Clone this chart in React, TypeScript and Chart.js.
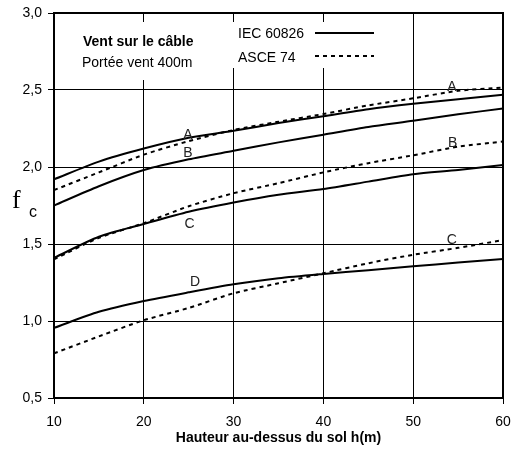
import { useEffect, useRef } from "react";
import { Chart, registerables } from "chart.js";

Chart.register(...registerables);

// ---- data ----
const heights = [10, 15, 20, 25, 30, 35, 40, 45, 50, 55, 60];
const iecA = [1.92, 2.035, 2.12, 2.19, 2.235, 2.285, 2.33, 2.375, 2.41, 2.44, 2.47];
const iecB = [1.75, 1.875, 1.98, 2.05, 2.105, 2.16, 2.21, 2.26, 2.3, 2.342, 2.38];
const iecC = [1.41, 1.547, 1.63, 1.71, 1.77, 1.82, 1.857, 1.905, 1.953, 1.98, 2.013];
const iecD = [0.955, 1.06, 1.13, 1.186, 1.238, 1.277, 1.305, 1.33, 1.355, 1.38, 1.403];
const asceA = [1.85, 1.965, 2.08, 2.168, 2.24, 2.294, 2.344, 2.4, 2.446, 2.495, 2.515];
const asceB = [1.4, 1.54, 1.635, 1.745, 1.83, 1.895, 1.965, 2.025, 2.076, 2.132, 2.165];
const asceC = [0.79, 0.9, 1.005, 1.085, 1.18, 1.245, 1.31, 1.375, 1.43, 1.475, 1.525];

const xTicks = [10, 20, 30, 40, 50, 60];
const yTicks = [0.5, 1.0, 1.5, 2.0, 2.5, 3.0];

const legendNames = ["IEC 60826", "ASCE 74"];
const boxTitle = "Vent sur le câble";
const boxSubtitle = "Portée vent 400m";
const xTitle = "Hauteur au-dessus du sol h(m)";

const curveLabelText = ["A", "B", "C", "D", "A", "B", "C"];
const curveLabelX = [24.9, 24.9, 25.1, 25.7, 54.3, 54.4, 54.3];
const curveLabelY = [2.21, 2.09, 1.63, 1.253, 2.52, 2.156, 1.526];

const toPts = (ys: number[]) => ys.map((y, i) => ({ x: heights[i], y }));

const overlayPlugin = {
  id: "overlay",
  afterDatasetsDraw(chart: any) {
    const { ctx, chartArea, scales } = chart;
    const xs = scales.x;
    const ys = scales.y;
    ctx.save();
    // white boxes
    ctx.fillStyle = "#fff";
    ctx.fillRect(62, 22, 170, 58);
    ctx.fillRect(232, 22, 150, 46);

    ctx.fillStyle = "#000";
    ctx.textBaseline = "middle";
    ctx.textAlign = "left";
    ctx.font = 'bold 14px "Liberation Sans", Arial, sans-serif';
    ctx.fillText(boxTitle, 83, 42);
    ctx.font = '14px "Liberation Sans", Arial, sans-serif';
    ctx.fillText(boxSubtitle, 82, 63);

    // legend
    ctx.fillText(legendNames[0], 238, 34);
    ctx.fillText(legendNames[1], 238, 58);
    ctx.strokeStyle = "#000";
    ctx.lineWidth = 2;
    ctx.beginPath();
    ctx.moveTo(315, 33);
    ctx.lineTo(374, 33);
    ctx.stroke();
    ctx.setLineDash([4, 4]);
    ctx.beginPath();
    ctx.moveTo(315, 56);
    ctx.lineTo(374, 56);
    ctx.stroke();
    ctx.setLineDash([]);

    // curve labels
    ctx.textAlign = "center";
    ctx.font = '14px "Liberation Sans", Arial, sans-serif';
    ctx.fillStyle = "#222";
    curveLabelText.forEach((t, i) => {
      ctx.fillText(t, xs.getPixelForValue(curveLabelX[i]), ys.getPixelForValue(curveLabelY[i]));
    });

    // frame
    ctx.strokeStyle = "#000";
    ctx.lineWidth = 2;
    ctx.strokeRect(chartArea.left, chartArea.top, chartArea.right - chartArea.left, chartArea.bottom - chartArea.top);

    // axis titles
    ctx.fillStyle = "#000";
    ctx.textAlign = "center";
    ctx.font = 'bold 14px "Liberation Sans", Arial, sans-serif';
    ctx.fillText(xTitle, (chartArea.left + chartArea.right) / 2, 438);

    ctx.textAlign = "left";
    ctx.textBaseline = "alphabetic";
    ctx.font = '26px "Liberation Serif", "Times New Roman", serif';
    ctx.fillText("f", 12, 208);
    ctx.font = '16px "Liberation Sans", Arial, sans-serif';
    ctx.fillText("c", 29, 217);
    ctx.restore();
  },
};

export default function App() {
  const ref = useRef<HTMLCanvasElement | null>(null);
  useEffect(() => {
    if (!ref.current) return;
    const solid = (data: number[]) => ({
      data: toPts(data),
      borderColor: "#000",
      borderWidth: 2,
      pointRadius: 0,
      tension: 0.25,
      fill: false,
    });
    const dashed = (data: number[]) => ({
      ...solid(data),
      borderDash: [4, 4],
    });
    const chart = new Chart(ref.current, {
      type: "line",
      data: {
        datasets: [
          { label: legendNames[0] + " A", ...solid(iecA) },
          { label: legendNames[0] + " B", ...solid(iecB) },
          { label: legendNames[0] + " C", ...solid(iecC) },
          { label: legendNames[0] + " D", ...solid(iecD) },
          { label: legendNames[1] + " A", ...dashed(asceA) },
          { label: legendNames[1] + " B", ...dashed(asceB) },
          { label: legendNames[1] + " C", ...dashed(asceC) },
        ] as any,
      },
      options: {
        animation: false,
        responsive: false,
        layout: { padding: { top: 13, right: 9, left: 0, bottom: 0 } },
        plugins: { legend: { display: false }, tooltip: { enabled: false } },
        scales: {
          x: {
            type: "linear",
            min: 10,
            max: 60,
            afterFit: (s: any) => {
              s.height = 51;
              s.paddingLeft = 0;
              s.paddingRight = 0;
            },
            afterBuildTicks: (s: any) => {
              s.ticks = xTicks.map((v) => ({ value: v }));
            },
            grid: { color: "#000", lineWidth: 1, tickLength: 6, tickColor: "#000" },
            border: { display: true, color: "#000", width: 2 },
            ticks: {
              color: "#000",
              padding: 10,
              maxRotation: 0,
              font: { family: '"Liberation Sans", Arial, sans-serif', size: 14 },
            },
          },
          y: {
            type: "linear",
            min: 0.5,
            max: 3.0,
            afterFit: (s: any) => {
              s.width = 54;
              s.paddingTop = 0;
              s.paddingBottom = 0;
            },
            afterBuildTicks: (s: any) => {
              s.ticks = yTicks.map((v) => ({ value: v }));
            },
            grid: { color: "#000", lineWidth: 1, tickLength: 6, tickColor: "#000" },
            border: { display: true, color: "#000", width: 2 },
            ticks: {
              color: "#000",
              padding: 6,
              font: { family: '"Liberation Sans", Arial, sans-serif', size: 14 },
              callback: (v: any) => Number(v).toFixed(1).replace(".", ","),
            },
          },
        },
      },
      plugins: [overlayPlugin],
    });
    return () => chart.destroy();
  }, []);
  return (
    <div style={{ position: "fixed", left: 0, top: 0, width: 512, height: 449, background: "#fff" }}>
      <canvas ref={ref} width={512} height={449} style={{ width: 512, height: 449, display: "block" }} />
    </div>
  );
}
